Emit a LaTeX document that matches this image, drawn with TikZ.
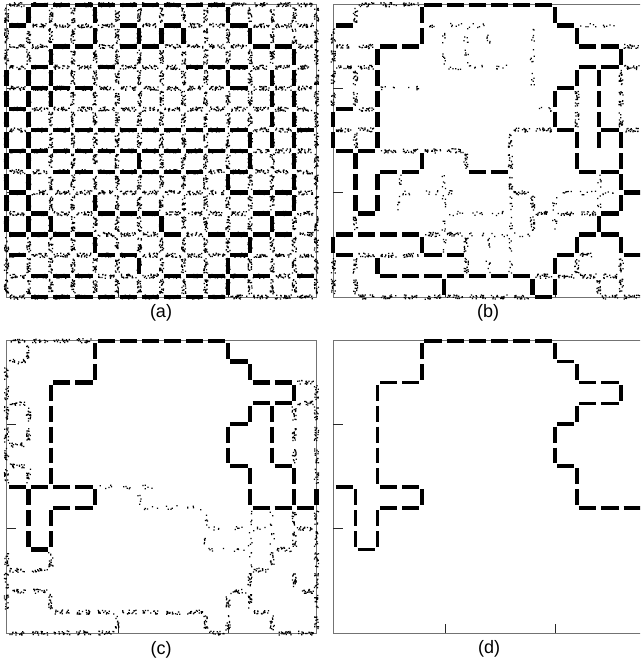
\documentclass[tikz,border=0pt]{standalone}
\usepackage{fontspec}
\setmainfont{Liberation Sans}
\def\cw{22.14}
\def\ch{20.88}
\def\g{2.5}
% thick dashed edges: horizontal list j/a/b, vertical list i/a/b
\newcommand\ThH[2]{\foreach \j/\a/\b in {#2}{\foreach \i in {\a,...,\b}{\draw[#1] ({\i*\cw+\g},{\j*\ch}) -- ({(\i+1)*\cw-\g},{\j*\ch});}}}
\newcommand\ThV[2]{\foreach \i/\a/\b in {#2}{\foreach \j in {\a,...,\b}{\draw[#1] ({\i*\cw},{\j*\ch+\g}) -- ({\i*\cw},{(\j+1)*\ch-\g});}}}
% speckled (noisy) edges
\newcommand\NzH[2]{\foreach \j/\a/\b in {#2}{\foreach \i in {\a,...,\b}{\fill foreach \k in {1,...,#1}{({\i*\cw+\g+rnd*(\cw-2*\g-1.2)},{\j*\ch-2.7+rnd*4.2}) rectangle ++(1.25,1.25)};}}}
\newcommand\NzV[2]{\foreach \i/\a/\b in {#2}{\foreach \j in {\a,...,\b}{\fill foreach \k in {1,...,#1}{({\i*\cw-2.7+rnd*4.2},{\j*\ch+\g+rnd*(\ch-2*\g-1.2)}) rectangle ++(1.25,1.25)};}}}
\newcommand\Frame[1]{\draw[frm] (0,0) rectangle (14*\cw,14*\ch);
  \draw[tck] (0,83.6) -- (9.3,83.6) (0,187.6) -- (9.3,187.6)
             (112,{14*\ch}) -- (112,{14*\ch-9.3}) (222,{14*\ch}) -- (222,{14*\ch-9.3});}
\begin{document}
\begin{tikzpicture}[x=1pt,y=-1pt,
  thk/.style={line width=4.3pt},
  thd/.style={line width=3.6pt},
  frm/.style={draw=black!55,line width=0.9pt},
  tck/.style={draw=black!85,line width=0.9pt},
  lbl/.style={font=\fontsize{18}{20}\selectfont, inner sep=0pt}]
\pgfmathsetseed{4242}
\useasboundingbox (0,0) rectangle (640,666);
\clip (0,0) rectangle (640,666);
\fill[white] (0,0) rectangle (640,666);

% ---------------- panel (a)
\begin{scope}[shift={(6.5,4.7)}]
  \Frame{}
  \foreach \r in {0,...,14}{\NzH{21}{\r/0/13}\NzV{21}{\r/0/13}}
  \ThH{thk}{0/1/9, 1/0/0, 1/5/5, 1/7/7, 1/10/10, 2/2/3, 2/5/6, 2/11/12, 3/1/1, 3/4/4, 3/8/10,
    4/1/3, 4/10/10, 5/0/0, 6/1/10, 6/13/13, 7/0/10, 8/2/8, 8/10/10, 9/0/0, 9/10/12, 10/1/1,
    10/4/6, 10/11/12, 11/0/3, 11/7/7, 11/9/12, 12/0/0, 12/4/5, 12/10/10, 13/1/3, 13/7/11,
    13/13/13, 14/1/9}
  \ThV{thk}{0/3/10, 1/0/0, 1/3/10, 2/2/4, 2/10/10, 4/0/1, 4/9/9, 4/11/11, 6/1/1, 6/7/7, 6/12/12,
    7/1/1, 7/10/10, 8/1/1, 10/0/0, 10/3/3, 10/8/8, 10/12/13, 11/1/1, 11/6/7, 11/11/11,
    12/3/6, 12/10/10, 13/2/9}
\end{scope}
\node[lbl] (la) at (161,313) {(a)};

% ---------------- panel (b)
\begin{scope}[shift={(333.3,4.7)}]
  \Frame{}
  \NzH{18}{0/1/3, 2/0/1, 3/0/1, 5/1/1, 6/0/1, 6/8/9, 6/13/13, 7/2/5, 2/13/13, 3/13/13, 9/8/8,
    10/9/11, 11/4/5, 12/11/11, 13/9/12, 14/1/8, 14/12/13, 12/2/3, 12/1/1}
  \NzV{18}{1/0/0, 0/1/4, 1/3/4, 1/6/6, 6/7/7, 8/6/8, 9/9/10, 6/11/12, 1/10/10, 1/12/13, 0/12/13,
    12/13/13, 13/12/13, 11/12/12, 13/3/5, 11/4/5, 14/2/3}
  \NzH{6}{1/4/6, 1/11/12, 3/5/7, 9/3/5, 10/5/7, 5/9/9, 4/2/3, 11/6/8, 9/10/12}
  \NzV{6}{5/1/2, 6/1/2, 7/1/1, 9/1/3, 3/8/9, 5/8/11, 8/9/12, 10/9/10, 12/8/9, 7/11/12}
  \ThH{thk}{0/4/9, 1/0/0, 1/10/10, 2/2/3, 2/11/12, 3/11/12, 4/10/10, 5/0/0, 6/10/10, 6/12/12,
    7/0/1, 8/2/3, 8/6/7, 8/11/12, 9/13/13, 10/1/1, 10/12/12, 11/0/3, 11/11/12, 12/0/0,
    12/4/5, 12/10/10, 12/13/13, 13/2/8, 14/9/9}
  \ThV{thk}{0/5/6, 0/11/11, 1/7/9, 2/2/6, 2/8/9, 2/12/12, 4/0/1, 4/7/7, 4/11/11, 5/13/13,
    9/13/13, 10/0/0, 10/4/5, 10/12/13, 11/1/1, 11/3/3, 11/6/7, 11/11/11, 12/3/6, 12/10/10,
    13/2/2, 13/6/9, 13/11/11}
\end{scope}
\node[lbl] (lb) at (488,313) {(b)};

% ---------------- panel (c)
\begin{scope}[shift={(6.5,340.7)}]
  \Frame{}
  \NzH{16}{0/0/3, 1/0/0, 3/0/0, 5/0/0, 6/0/0, 11/0/1, 12/0/1, 13/2/8, 14/0/4, 14/9/9, 12/10/10,
    11/11/11, 13/11/11, 14/12/13, 10/12/12, 9/13/13, 12/13/13, 2/13/13, 3/13/13}
  \NzV{16}{0/1/6, 1/0/0, 1/3/4, 1/6/6, 2/10/10, 0/10/12, 2/12/12, 5/13/13, 9/13/13, 10/12/13,
    11/11/12, 12/13/13, 12/10/10, 13/8/9, 13/11/11, 13/3/5, 14/2/6, 14/8/13}
  \NzH{5}{7/4/6, 8/6/8, 10/9/10, 9/9/11}
  \NzV{5}{6/7/7, 9/8/9, 11/8/10, 12/8/9}
  \ThH{thk}{0/4/9, 1/10/10, 2/2/3, 2/11/12, 3/11/12, 4/10/10, 6/10/10, 6/12/12, 7/0/3, 8/2/3,
    8/11/13, 10/1/1}
  \ThV{thk}{1/7/9, 2/2/6, 2/8/9, 4/0/1, 4/7/7, 10/0/0, 10/4/5, 11/1/1, 11/3/3, 11/6/7,
    12/3/5, 13/2/2, 13/6/7, 14/7/7}
\end{scope}
\node[lbl] (lc) at (161,650) {(c)};

% ---------------- panel (d)
\begin{scope}[shift={(333.3,340.7)}]
  \Frame{}
  \ThH{thd}{0/4/9, 1/10/10, 2/2/3, 2/11/12, 3/11/12, 4/10/10, 6/10/10, 7/0/0, 7/2/3, 8/2/3,
    8/11/13, 10/1/1}
  \ThV{thd}{1/7/9, 2/2/6, 2/8/9, 4/0/1, 4/7/7, 10/0/0, 10/4/5, 11/1/1, 11/3/3, 11/6/7, 13/2/2}
\end{scope}
\node[lbl] (ld) at (489,649) {(d)};
\end{tikzpicture}
\end{document}
